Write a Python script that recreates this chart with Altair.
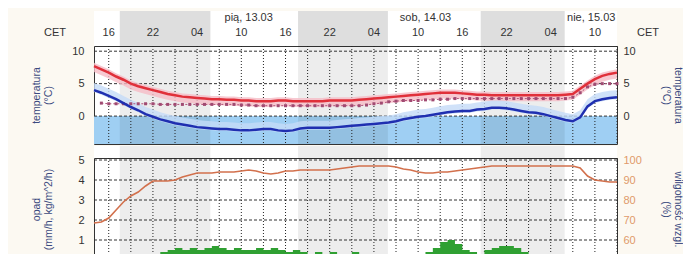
import altair as alt
import pandas as pd

# hours after 12.03 14:00 CET
t_hours = list(range(72))
temp = [7.7, 7.2, 6.7, 6.1, 5.6, 5.0, 4.6, 4.3, 4.0, 3.7,
        3.4, 3.2, 3.0, 2.9, 2.8, 2.7, 2.6, 2.6, 2.5, 2.5,
        2.4, 2.4, 2.3, 2.3, 2.3, 2.4, 2.4, 2.3, 2.3, 2.3,
        2.3, 2.3, 2.4, 2.4, 2.4, 2.4, 2.5, 2.6, 2.7, 2.8,
        2.9, 3.0, 3.1, 3.2, 3.3, 3.4, 3.5, 3.6, 3.6, 3.6,
        3.5, 3.4, 3.3, 3.3, 3.2, 3.2, 3.2, 3.2, 3.2, 3.2,
        3.2, 3.2, 3.2, 3.2, 3.3, 3.4, 4.2, 5.0, 5.7, 6.2,
        6.5, 6.7]
dew = [4.0, 3.6, 3.1, 2.6, 2.0, 1.4, 0.9, 0.3, -0.1, -0.5,
       -0.8, -1.1, -1.3, -1.5, -1.7, -1.8, -1.9, -2.0, -2.0, -2.1,
       -2.2, -2.2, -2.1, -2.0, -2.0, -2.2, -2.3, -2.2, -1.9, -1.8,
       -1.8, -1.8, -1.8, -1.7, -1.6, -1.5, -1.4, -1.3, -1.2, -1.1,
       -1.0, -0.8, -0.5, -0.3, -0.1, 0.0, 0.2, 0.4, 0.6, 0.7,
       0.8, 0.8, 1.0, 1.1, 1.3, 1.3, 1.2, 1.0, 0.8, 0.6,
       0.5, 0.3, 0.0, -0.3, -0.6, -0.8, -0.2, 1.5, 2.3, 2.6,
       2.8, 2.9]
feel_t = list(range(1, 72))
feel = [2.0, 1.9, 1.9, 1.9, 1.9, 1.9, 1.9, 1.9, 1.8,
        1.8, 1.8, 1.8, 1.8, 1.8, 1.8, 1.8, 1.8, 1.8, 1.8,
        1.7, 1.7, 1.6, 1.6, 1.6, 1.6, 1.6, 1.6, 1.6, 1.6,
        1.6, 1.6, 1.6, 1.6, 1.6, 1.6, 1.6, 1.7, 1.9, 2.0,
        2.2, 2.3, 2.4, 2.4, 2.4, 2.5, 2.5, 2.6, 2.6, 2.7,
        2.7, 2.7, 2.7, 2.7, 2.7, 2.7, 2.7, 2.7, 2.7, 2.7,
        2.7, 2.7, 2.7, 2.7, 2.7, 2.9, 3.6, 4.5, 4.9, 5.0,
        5.0, 5.0]
humidity = [68.5, 69, 71, 75, 79, 82, 84, 87, 89.5, 89.5,
            89.5, 90, 91.5, 92.5, 93.5, 93.5, 93.5, 94, 94, 94,
            94.5, 95, 94.5, 93.5, 93, 93.5, 94.5, 94.5, 95, 95,
            95, 95, 95, 95.5, 96, 96.5, 97, 97, 97, 97,
            97, 96.5, 95.5, 95, 94, 93.5, 93.5, 94, 94, 94.5,
            95, 95.5, 96, 96.5, 97, 97, 97, 97, 97, 97,
            97, 97, 97, 97, 97, 97, 96, 92, 90, 89.5,
            89, 89]
precip = [0, 0, 0, 0, 0, 0, 0, 0.1, 0.3, 0.4,
          0.5, 0.6, 0.5, 0.6, 0.5, 0.6, 0.7, 0.6, 0.5, 0.6,
          0.5, 0.5, 0.6, 0.5, 0.6, 0.5, 0.4, 0.5, 0.4, 0.3,
          0.4, 0.3, 0.4, 0.3, 0.3, 0.4, 0.3, 0.3, 0.3, 0.2,
          0.3, 0.3, 0.2, 0.3, 0.3, 0.4, 0.6, 0.9, 1.0, 0.8,
          0.5, 0.4, 0.3, 0.5, 0.6, 0.7, 0.7, 0.6, 0.4, 0.2,
          0.1, 0, 0, 0, 0, 0, 0, 0, 0, 0,
          0, 0]

night_start = [3.5, 27.7, 52.5]
night_end = [15.8, 39.9, 63.9]
hour_ticks = [2, 8, 14, 20, 26, 32, 38, 44, 50, 56, 62, 68]
hour_labels = ["16", "22", "04", "10", "16", "22", "04", "10", "16", "22", "04", "10"]
grid_ticks = list(range(2, 72, 3))
date_pos = [21.0, 45.0, 67.5]
date_labels = ["pią, 13.03", "sob, 14.03", "nie, 15.03"]
temp_ticks = [0, 5, 10]
precip_ticks = [0, 1, 2, 3, 4, 5]
hum_ticks = [50, 60, 70, 80, 90, 100]

W, H1, H2 = 523, 98, 102
FONT = "Liberation Sans"
TITLE_COLOR = "#3b4a80"

xs = alt.Scale(domain=[0, 71], nice=False, zero=False)
ts = alt.Scale(domain=[-4.3, 10.8], nice=False, zero=False)
ps = alt.Scale(domain=[0, 5.1], nice=False, zero=False)
hs = alt.Scale(domain=[50, 101], nice=False, zero=False)

series = pd.DataFrame({"t": t_hours, "temp": temp, "dew": dew,
                       "hum": humidity, "p": precip})
feel_df = pd.DataFrame({"t": feel_t, "v": feel})
night_df = pd.DataFrame({"s": night_start, "e": night_end})
grid_df = pd.DataFrame({"g": grid_ticks})
hour_df = pd.DataFrame({"t": hour_ticks, "lab": hour_labels})
date_df = pd.DataFrame({"t": date_pos, "lab": date_labels})
one = pd.DataFrame({"lab": ["CET"]})


def X(f):
    return alt.X(f, type="quantitative", scale=xs, axis=None)


def axis(orient, title, values, title_x, h, color="#333"):
    return alt.Axis(orient=orient, title=title, values=values, grid=False,
                    ticks=False, domain=False,
                    labelPadding=10 if orient == "left" else 6,
                    labelFont=FONT, labelFontSize=11, labelColor=color,
                    titleFont=FONT, titleFontSize=10.5, titleFontWeight="normal",
                    titleColor=TITLE_COLOR, titleLineHeight=12,
                    titleX=title_x, titleY=h / 2, titleBaseline="bottom")


# ---------------- top panel (temperature) ----------------
below0 = alt.Chart(pd.DataFrame({"lo": [-4.3], "hi": [0]})).mark_rect(color="#9fcff3").encode(
    x=alt.value(0), x2=alt.value(W),
    y=alt.Y("lo:Q", scale=ts, axis=None), y2="hi:Q")
head_bg = alt.Chart(one).mark_rect(color="white").encode(
    x=alt.value(0), x2=alt.value(W), y=alt.value(-35), y2=alt.value(0))
night_head = alt.Chart(night_df).mark_rect(color="#dedede").encode(
    x=X("s"), x2="e", y=alt.value(-35), y2=alt.value(0))
night_top = alt.Chart(night_df).mark_rect(color="#000", opacity=0.07).encode(
    x=X("s"), x2="e", y=alt.value(0), y2=alt.value(H1))
vgrid_top = alt.Chart(grid_df).mark_rule(color="#222", strokeDash=[1, 2]).encode(
    x=X("g"), y=alt.value(0), y2=alt.value(H1))
hgrid_top = alt.Chart(pd.DataFrame({"v": temp_ticks})).mark_rule(
    color="#333", strokeDash=[3, 2]).encode(
    y=alt.Y("v:Q", scale=ts, axis=axis("left", ["temperatura", "(°C)"], temp_ticks, -53, H1)),
    x=alt.value(0), x2=alt.value(W))
right_top = alt.Chart(pd.DataFrame({"v": temp_ticks})).mark_rule(opacity=0).encode(
    y=alt.Y("v:Q", scale=ts, axis=axis("right", ["temperatura", "(°C)"], temp_ticks, 55, H1)),
    x=alt.value(0), x2=alt.value(W))
pink = alt.Chart(series).transform_calculate(
    lo="datum.temp - 0.9", hi="datum.temp + 0.5").mark_area(
    color="#f5bcc6", opacity=0.8).encode(
    x=X("t"), y=alt.Y("lo:Q", scale=ts, axis=None), y2="hi:Q")
halo = alt.Chart(series).transform_calculate(
    lo="datum.dew - 0.3", hi="datum.dew + 1.1").mark_area(
    color="#c4dbf7", opacity=0.8).encode(
    x=X("t"), y=alt.Y("lo:Q", scale=ts, axis=None), y2="hi:Q")
feel_line = alt.Chart(feel_df).mark_line(color="#b05078", strokeDash=[2, 2],
                                         strokeWidth=1).encode(
    x=X("t"), y=alt.Y("v:Q", scale=ts, axis=None))
feel_pts = alt.Chart(feel_df).mark_square(color="#a04a72", size=9, opacity=1).encode(
    x=X("t"), y=alt.Y("v:Q", scale=ts, axis=None))
red = alt.Chart(series).mark_line(color="#e0303a", strokeWidth=2.5).encode(
    x=X("t"), y=alt.Y("temp:Q", scale=ts, axis=None))
blue = alt.Chart(series).mark_line(color="#1f2fb0", strokeWidth=2.5).encode(
    x=X("t"), y=alt.Y("dew:Q", scale=ts, axis=None))
txt = dict(font=FONT, fontSize=11, color="#333")
hours_txt = alt.Chart(hour_df).mark_text(**txt).encode(
    x=X("t"), y=alt.value(-13), text="lab:N")
dates_txt = alt.Chart(date_df).mark_text(**txt).encode(
    x=X("t"), y=alt.value(-28), text="lab:N")
cet_l = alt.Chart(one).mark_text(**txt).encode(x=alt.value(-39), y=alt.value(-13), text="lab:N")
cet_r = alt.Chart(one).mark_text(**txt).encode(x=alt.value(554), y=alt.value(-13), text="lab:N")

top = alt.layer(
    head_bg, night_head, below0, night_top, vgrid_top, hgrid_top, right_top,
    pink, halo, feel_line, feel_pts, red, blue, hours_txt, dates_txt, cet_l, cet_r
).resolve_scale(y="independent").properties(width=W, height=H1)

# ---------------- bottom panel (precipitation / humidity) ----------------
gap = alt.Chart(one).mark_rect(color="white").encode(
    x=alt.value(0), x2=alt.value(W), y=alt.value(-12), y2=alt.value(0))
night_bot = alt.Chart(night_df).mark_rect(color="#000", opacity=0.07).encode(
    x=X("s"), x2="e", y=alt.value(-12), y2=alt.value(H2))
vgrid_bot = alt.Chart(grid_df).mark_rule(color="#222", strokeDash=[1, 2]).encode(
    x=X("g"), y=alt.value(0), y2=alt.value(H2))
hgrid_bot = alt.Chart(pd.DataFrame({"v": precip_ticks})).mark_rule(
    color="#333", strokeDash=[3, 2]).encode(
    y=alt.Y("v:Q", scale=ps,
            axis=axis("left", ["opad", "(mm/h, kg/m^2/h)"], precip_ticks, -53, H2)),
    x=alt.value(0), x2=alt.value(W))
rain = alt.Chart(series).mark_area(color="#2fa032", interpolate="step-after").encode(
    x=X("t"), y=alt.Y("p:Q", scale=ps, axis=None), y2=alt.Y2(datum=0))
hum = alt.Chart(series).mark_line(color="#d2704c", strokeWidth=1.6).encode(
    x=X("t"),
    y=alt.Y("hum:Q", scale=hs,
            axis=axis("right", ["wilgotność wzgl.", "(%)"], hum_ticks, 55, H2,
                      color="#e09a6a")))

bottom = alt.layer(
    gap, night_bot, vgrid_bot, hgrid_bot, rain, hum
).resolve_scale(y="independent").properties(width=W, height=H2)

chart = alt.vconcat(top, bottom, spacing=0).properties(
    padding={"left": 22, "top": 2, "right": 0, "bottom": 0},
    background="#fcf9f2",
).configure_view(stroke="#333", strokeWidth=1, fill="white")

chart.save("out.html", embed_options={"renderer": "svg", "actions": False})
